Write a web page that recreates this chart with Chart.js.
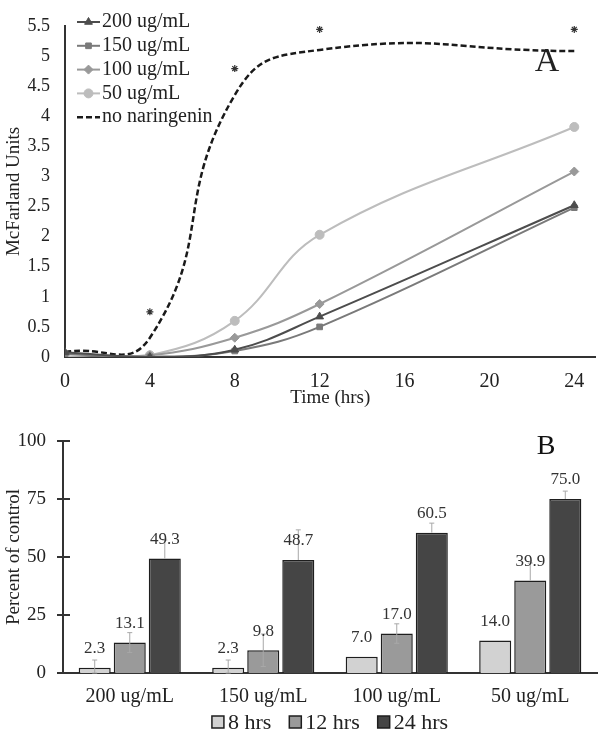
<!DOCTYPE html>
<html>
<head>
<meta charset="utf-8">
<script src="https://cdn.jsdelivr.net/npm/chart.js@4.4.1/dist/chart.umd.min.js"></script>
<style>
  html, body { margin:0; padding:0; background:#fff; }
  body { width:601px; height:736px; position:relative; overflow:hidden; }
  #growth { position:absolute; left:0; top:0; }
  #percent { position:absolute; left:0; top:410px; }
</style>
</head>
<body>
<canvas id="growth" width="601" height="410"></canvas>
<canvas id="percent" width="601" height="326"></canvas>
<script>
// panel A - growth curves
const hours = [0, 4, 8, 12, 24];
const timeTicks = [0, 4, 8, 12, 16, 20, 24];
const conc200 = [0.08, 0.0, 0.12, 0.67, 2.52];
const conc150 = [0.05, 0.0, 0.10, 0.50, 2.48];
const conc100 = [0.05, 0.03, 0.32, 0.88, 3.08];
const conc50 = [0.0, 0.03, 0.60, 2.03, 3.82];
const noNaringenin = [0.08, 0.32, 4.35, 5.10, 5.08];
const sigHours = [4, 8, 12, 24];
const sigLevels = [0.75, 4.79, 5.44, 5.44];

// panel B - percent of control
const groups = ['200 ug/mL', '150 ug/mL', '100 ug/mL', '50 ug/mL'];
const pct8 = [2.3, 2.3, 7.0, 14.0];
const pct12 = [13.1, 9.8, 17.0, 39.9];
const pct24 = [49.3, 48.7, 60.5, 75.0];
const errUp8 = [3.3, 3.3, 0, 0];
const errUp12 = [4.3, 7.0, 4.2, 7.5];
const errUp24 = [8.0, 13.0, 4.1, 3.4];
const errDown8 = [2.3, 2.3, 0, 0];
const errDown12 = [4.3, 7.0, 4.2, 0];
const errDown24 = [0, 0, 0, 0];

Chart.defaults.font.family = '"Liberation Serif", "Times New Roman", serif';
Chart.defaults.color = '#222';

const pts = arr => hours.map((h, i) => ({x: h, y: arr[i]}));

const topLegend = {
  id: 'topLegend',
  afterDraw(chart) {
    const ctx = chart.ctx;
    ctx.save();
    ctx.font = '20px "Liberation Serif"';
    ctx.textBaseline = 'middle';
    chart.data.datasets.slice(0, 5).forEach((ds, i) => {
      const y = 22 + i * 23.8;
      ctx.strokeStyle = ds.borderColor;
      ctx.lineWidth = ds.borderWidth;
      ctx.setLineDash(ds.borderDash || []);
      ctx.beginPath(); ctx.moveTo(77, y); ctx.lineTo(100, y); ctx.stroke();
      ctx.setLineDash([]);
      if (ds.pointRadius > 0) {
        ctx.fillStyle = ds.backgroundColor;
        ctx.lineWidth = 1;
        Chart.helpers.drawPoint(ctx, {pointStyle: ds.pointStyle, radius: ds.pointRadius, rotation: 0, borderWidth: 1}, 88.5, y);
      }
      ctx.fillStyle = '#222';
      ctx.fillText(ds.label, 102, y);
    });
    ctx.font = '34px "Liberation Serif"';
    ctx.textAlign = 'center';
    ctx.fillText('A', 547, 62);
    ctx.restore();
  }
};

const lineSet = (label, arr, color, style, radius) => ({
  label, data: pts(arr), borderColor: color, backgroundColor: color,
  borderWidth: 2, pointStyle: style, pointRadius: radius, pointBorderWidth: 1,
  tension: 0.4
});

new Chart(document.getElementById('growth'), {
  type: 'line',
  data: {
    datasets: [
      lineSet('200 ug/mL', conc200, '#4d4d4d', 'triangle', 4.5),
      lineSet('150 ug/mL', conc150, '#7a7a7a', 'rect', 4),
      lineSet('100 ug/mL', conc100, '#999999', 'rectRot', 4.5),
      lineSet('50 ug/mL', conc50, '#bdbdbd', 'circle', 4.5),
      {label: 'no naringenin', data: pts(noNaringenin), borderColor: '#1a1a1a', backgroundColor: '#1a1a1a',
       borderWidth: 2.5, borderDash: [6, 3], pointRadius: 0, tension: 0.5},
      {label: 'sig', data: sigHours.map((h, i) => ({x: h, y: sigLevels[i]})), showLine: false,
       pointStyle: 'star', pointRadius: 3.5, borderColor: '#333', pointBorderWidth: 1.2, clip: false}
    ]
  },
  options: {
    responsive: false,
    animation: false,
    elements: {line: {capBezierPoints: false}},
    layout: {padding: {top: 12, right: 3, left: 0, bottom: 0}},
    plugins: {legend: {display: false}, tooltip: {enabled: false}},
    scales: {
      x: {
        type: 'linear', min: 0, max: 25,
        afterBuildTicks: s => { s.ticks = timeTicks.map(v => ({value: v})); },
        ticks: {font: {size: 20}, padding: 13, maxRotation: 0},
        grid: {display: false, drawTicks: false},
        border: {color: '#333', width: 2},
        title: {display: true, text: 'Time (hrs)', font: {size: 19}, padding: {top: 0, bottom: 1}},
        afterFit: s => { s.height = 53; }
      },
      y: {
        min: 0, max: 5.5,
        ticks: {stepSize: 0.5, font: {size: 18}, padding: 15, callback: v => String(v)},
        grid: {display: false, drawTicks: false},
        border: {color: '#333', width: 2},
        title: {display: true, text: 'McFarland Units', font: {size: 19}, padding: {top: 3, bottom: 0}},
        afterFit: s => { s.width = 65; }
      }
    }
  },
  plugins: [topLegend]
});

// error bars, value labels, tick crosses, legend and panel letter for B
const panelB = {
  id: 'panelB',
  afterDatasetsDraw(chart) {
    const ctx = chart.ctx;
    const yS = chart.scales.y;
    const ups = [errUp8, errUp12, errUp24];
    const downs = [errDown8, errDown12, errDown24];
    ctx.save();
    ctx.strokeStyle = '#a8a8a8';
    ctx.lineWidth = 1;
    chart.data.datasets.forEach((ds, di) => {
      chart.getDatasetMeta(di).data.forEach((bar, i) => {
        const v = ds.data[i];
        if (!ups[di][i] && !downs[di][i]) return;
        const yt = yS.getPixelForValue(v + ups[di][i]);
        const yb = yS.getPixelForValue(v - downs[di][i]);
        ctx.beginPath();
        ctx.moveTo(bar.x, yt); ctx.lineTo(bar.x, yb);
        ctx.moveTo(bar.x - 2.5, yt); ctx.lineTo(bar.x + 2.5, yt);
        if (downs[di][i]) { ctx.moveTo(bar.x - 2.5, yb); ctx.lineTo(bar.x + 2.5, yb); }
        ctx.stroke();
      });
    });
    ctx.fillStyle = '#333';
    ctx.font = '17px "Liberation Serif"';
    ctx.textAlign = 'center';
    ctx.textBaseline = 'middle';
    chart.data.datasets.forEach((ds, di) => {
      chart.getDatasetMeta(di).data.forEach((bar, i) => {
        ctx.fillText(ds.data[i].toFixed(1), bar.x, bar.y - 19);
      });
    });
    ctx.strokeStyle = '#333';
    ctx.lineWidth = 2;
    yS.ticks.forEach(t => {
      const y = yS.getPixelForValue(t.value);
      ctx.beginPath(); ctx.moveTo(chart.chartArea.left - 6, y); ctx.lineTo(chart.chartArea.left + 7, y); ctx.stroke();
    });
    ctx.fillStyle = '#111';
    ctx.font = '28px "Liberation Serif"';
    ctx.fillText('B', 546, 37);
    ctx.restore();
  },
  afterDraw(chart) {
    const ctx = chart.ctx;
    ctx.save();
    ctx.font = '22px "Liberation Serif"';
    ctx.textBaseline = 'middle';
    const box = 12, gap = 18;
    const items = chart.data.datasets.map(ds => ({ds, w: box + 4 + ctx.measureText(ds.label).width}));
    const total = items.reduce((a, b) => a + b.w, 0) + gap * (items.length - 1);
    let x = (chart.chartArea.left + chart.chartArea.right) / 2 - total / 2;
    const y = 312;
    items.forEach(it => {
      ctx.fillStyle = it.ds.backgroundColor;
      ctx.strokeStyle = it.ds.borderColor;
      ctx.lineWidth = 1.5;
      ctx.fillRect(x, y - box / 2, box, box);
      ctx.strokeRect(x, y - box / 2, box, box);
      ctx.fillStyle = '#222';
      ctx.fillText(it.ds.label, x + box + 4, y + 1);
      x += it.w + gap;
    });
    ctx.restore();
  }
};

new Chart(document.getElementById('percent'), {
  type: 'bar',
  data: {
    labels: groups,
    datasets: [
      {label: '8 hrs', data: pct8, backgroundColor: '#d2d2d2', borderColor: '#1e1e1e', borderWidth: 1.5},
      {label: '12 hrs', data: pct12, backgroundColor: '#9a9a9a', borderColor: '#1e1e1e', borderWidth: 1.5},
      {label: '24 hrs', data: pct24, backgroundColor: '#454545', borderColor: '#1e1e1e', borderWidth: 1.5}
    ]
  },
  options: {
    responsive: false,
    animation: false,
    layout: {padding: {top: 31, right: 4, left: 0, bottom: 23}},
    datasets: {bar: {categoryPercentage: 0.7875, barPercentage: 0.914}},
    plugins: {legend: {display: false}, tooltip: {enabled: false}},
    scales: {
      x: {
        grid: {display: false, drawTicks: false},
        border: {color: '#333', width: 2},
        ticks: {font: {size: 20}, padding: 12},
        afterFit: s => { s.height = 40; }
      },
      y: {
        min: 0, max: 100,
        ticks: {stepSize: 25, font: {size: 19}, padding: 17},
        grid: {display: false, drawTicks: false},
        border: {color: '#333', width: 2},
        title: {display: true, text: 'Percent of control', font: {size: 19}, padding: {top: 3, bottom: 0}},
        afterFit: s => { s.width = 63; }
      }
    }
  },
  plugins: [panelB]
});
</script>
</body>
</html>
